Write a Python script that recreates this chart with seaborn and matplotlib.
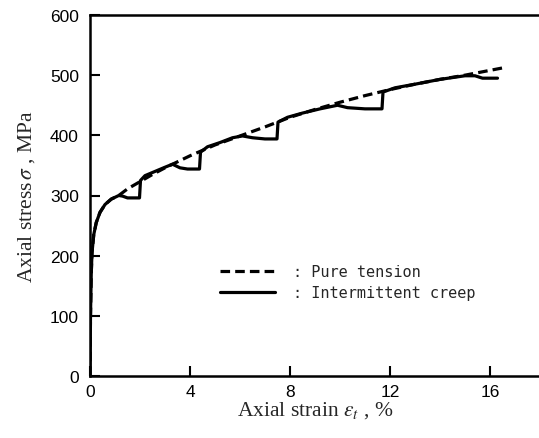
import matplotlib
matplotlib.use("Agg")
import matplotlib.pyplot as plt
import seaborn as sns
import pandas as pd

# intermittent creep curve (strain %, stress MPa)
creep_strain = [0, 0.02, 0.05, 0.08, 0.15, 0.25, 0.4, 0.6, 0.85, 1.15, 1.3, 1.5, 1.98,
                2.02, 2.2, 2.6, 3.0, 3.3, 3.6, 3.9, 4.38,
                4.42, 4.7, 5.2, 5.7, 6.1, 6.5, 7.0, 7.48,
                7.52, 7.9, 8.5, 9.2, 9.9, 10.3, 11.0, 11.68,
                11.72, 12.2, 13.0, 14.0, 15.0, 15.4, 15.7, 16.3]
creep_stress = [0, 100, 170, 205, 235, 255, 272, 285, 294, 300, 299, 296, 296,
                325, 333, 340, 347, 352, 346, 344, 344,
                372, 381, 388, 396, 399, 396, 394, 394,
                422, 430, 437, 444, 450, 446, 444, 444,
                472, 479, 485, 493, 499, 499, 495, 495]

# pure tension curve
tension_strain = [0, 0.02, 0.05, 0.08, 0.15, 0.25, 0.4, 0.6, 0.85, 1.15, 1.5, 2.0, 2.5,
                  3.0, 3.5, 4.0, 5.0, 6.0, 7.0, 8.0, 9.0, 10.0, 11.0, 12.0, 13.0,
                  14.0, 15.0, 16.0, 16.5]
tension_stress = [0, 100, 170, 205, 235, 255, 272, 285, 294, 300, 311, 323, 335,
                  346, 356, 366, 384, 399, 414, 430, 443, 455, 466, 476, 485,
                  493, 500, 508, 512]

x_ticks = [0, 4, 8, 12, 16]
y_ticks = [0, 100, 200, 300, 400, 500, 600]

sns.set_style("ticks")
plt.rcParams['mathtext.fontset'] = 'stix'

df_t = pd.DataFrame({'strain': tension_strain, 'stress': tension_stress})
df_c = pd.DataFrame({'strain': creep_strain, 'stress': creep_stress})

fig = plt.figure(figsize = (5.39, 4.39), dpi = 100)
ax = fig.add_axes([90 / 539, 62 / 439, 450 / 539, 361 / 439])

sns.lineplot(data = df_t, x = 'strain', y = 'stress', ax = ax, color = 'black',
             linewidth = 2.3, linestyle = (0, (3, 1.6)), sort = False,
             estimator = None, label = ': Pure tension')
sns.lineplot(data = df_c, x = 'strain', y = 'stress', ax = ax, color = 'black',
             linewidth = 2.3, sort = False, estimator = None,
             label = ': Intermittent creep')

ax.set_xlim(0, 18)
ax.set_ylim(0, 600)
ax.set_xticks(x_ticks)
ax.set_yticks(y_ticks)

tick_font = ['Liberation Sans Narrow', 'Liberation Sans', 'DejaVu Sans']
for lab in ax.get_xticklabels() + ax.get_yticklabels():
    lab.set_family(tick_font)
    lab.set_fontsize(12.5)
ax.tick_params(direction = 'in', length = 7, width = 1.5, colors = 'black')
ax.tick_params(axis = 'y', pad = 8)
ax.tick_params(axis = 'x', pad = 6)

for side in ['left', 'bottom', 'top']:
    ax.spines[side].set_linewidth(1.8)
    ax.spines[side].set_color('black')
ax.spines['right'].set_visible(False)

ax.set_xlabel(r'Axial strain $\varepsilon_t$ , %', family = 'Liberation Serif',
              fontsize = 15.5, labelpad = 0)
ax.set_ylabel(r'Axial stress$\,\sigma$ , MPa', family = 'Liberation Serif',
              fontsize = 15.5, labelpad = 9)

ax.legend(loc = 'upper left', bbox_to_anchor = (0.289, 0.31), frameon = False,
          prop = {'family': 'DejaVu Sans Mono', 'size': 11},
          handlelength = 3.6, handletextpad = 1.2, labelspacing = 0.4,
          borderpad = 0, borderaxespad = 0)

fig.savefig('out.png', dpi = 100)
